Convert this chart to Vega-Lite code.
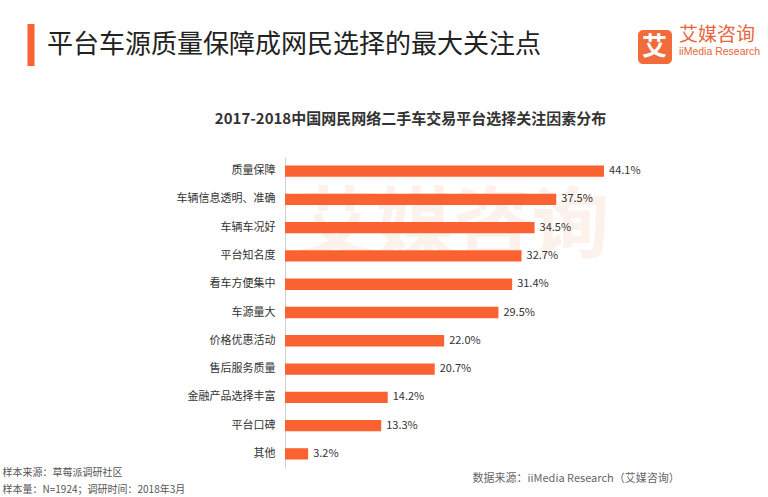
{
  "$schema": "https://vega.github.io/schema/vega-lite/v6.json",
  "width": 340,
  "height": 311,
  "autosize": {"type": "none"},
  "padding": {"left": 285, "top": 157, "right": 143, "bottom": 29},
  "background": "white",
  "config": {
    "font": "Noto Sans CJK SC",
    "view": {"stroke": null}
  },
  "title": {
    "text": "艾媒咨询",
    "subtitle": "iiMedia Research",
    "anchor": "start",
    "frame": "group",
    "dx": 394,
    "dy": 37,
    "fontSize": 19,
    "fontWeight": "normal",
    "color": "#E8643A",
    "subtitleColor": "#E8643A",
    "subtitleFontSize": 10.5,
    "subtitleFont": "Liberation Sans",
    "subtitlePadding": 2
  },
  "data": {
    "values": [
      {"factor": "质量保障", "share": 0.441},
      {"factor": "车辆信息透明、准确", "share": 0.375},
      {"factor": "车辆车况好", "share": 0.345},
      {"factor": "平台知名度", "share": 0.327},
      {"factor": "看车方便集中", "share": 0.314},
      {"factor": "车源量大", "share": 0.295},
      {"factor": "价格优惠活动", "share": 0.220},
      {"factor": "售后服务质量", "share": 0.207},
      {"factor": "金融产品选择丰富", "share": 0.142},
      {"factor": "平台口碑", "share": 0.133},
      {"factor": "其他", "share": 0.032}
    ]
  },
  "resolve": {"scale": {"x": "independent", "y": "independent"}},
  "layer": [
    {
      "mark": {"type": "bar"},
      "encoding": {
        "y": {
          "field": "factor", "type": "nominal", "sort": null,
          "scale": {"type": "band", "paddingInner": 0.6, "paddingOuter": 0.3},
          "axis": {
            "orient": "left",
            "ticks": false,
            "domain": true,
            "domainColor": "#D0D0D0",
            "domainWidth": 1,
            "labelFontSize": 11,
            "labelColor": "#333333",
            "labelPadding": 10,
            "labelLimit": 0,
            "title": ["样本来源：草莓派调研社区", "样本量：N=1924；调研时间：2018年3月"],
            "titleAngle": 0,
            "titleAlign": "left",
            "titleBaseline": "alphabetic",
            "titleX": -283,
            "titleY": 318,
            "titleLineHeight": 17,
            "titleFontWeight": "normal",
            "titleFontSize": 10,
            "titleColor": "#555555"
          }
        },
        "x": {
          "field": "share", "type": "quantitative",
          "scale": {"domain": [0, 0.47]},
          "axis": {
            "orient": "bottom",
            "labels": false, "ticks": false, "domain": false, "grid": false,
            "title": "数据来源：iiMedia Research（艾媒咨询）",
            "titleX": 187,
            "titleY": 10,
            "titleAlign": "left",
            "titleBaseline": "middle",
            "titleFontWeight": "normal",
            "titleFontSize": 11,
            "titleColor": "#666666"
          }
        },
        "color": {
          "datum": "平台车源质量保障成网民选择的最大关注点",
          "scale": {"range": ["#FA6231"]},
          "legend": {
            "orient": "none",
            "legendX": -275,
            "legendY": -133,
            "title": null,
            "padding": 0,
            "symbolType": "M-0.167,-1H0.167V1H-0.167Z",
            "symbolSize": 1764,
            "symbolStrokeWidth": 0,
            "symbolOpacity": 1,
            "labelFontSize": 26,
            "labelColor": "#222222",
            "labelOffset": -5,
            "labelLimit": 0
          }
        }
      }
    },
    {
      "mark": {"type": "text", "align": "left", "baseline": "middle", "dx": 5, "fontSize": 11, "color": "#333333"},
      "encoding": {
        "y": {
          "field": "factor", "type": "nominal", "sort": null,
          "scale": {"type": "band", "paddingInner": 0.6, "paddingOuter": 0.3},
          "axis": {
            "orient": "right",
            "labels": false, "ticks": false, "domain": false, "grid": false,
            "title": "艾媒咨询",
            "titleAngle": 0,
            "titleAlign": "center",
            "titleBaseline": "middle",
            "titleX": -172,
            "titleY": 71,
            "titleFontSize": 78,
            "titleFontWeight": "bold",
            "titleColor": "#FDF1EC"
          }
        },
        "x": {
          "field": "share", "type": "quantitative",
          "scale": {"domain": [0, 0.47]},
          "axis": {
            "orient": "top",
            "labels": false, "ticks": false, "domain": false, "grid": false,
            "title": "2017-2018中国网民网络二手车交易平台选择关注因素分布",
            "titleX": 125,
            "titleY": -39,
            "titleAlign": "center",
            "titleBaseline": "middle",
            "titleFontSize": 15,
            "titleFontWeight": "bold",
            "titleColor": "#333333"
          }
        },
        "text": {"field": "share", "type": "quantitative", "format": ".1%"}
      }
    },
    {
      "transform": [{"filter": "false"}],
      "mark": {"type": "point", "filled": true, "color": "#F26B3A"},
      "encoding": {
        "y": {"field": "factor", "type": "nominal", "sort": null, "axis": null},
        "x": {"field": "share", "type": "quantitative", "axis": null},
        "shape": {
          "datum": "艾",
          "scale": {"range": ["M-0.7,-1H0.7A0.3,0.3 0 0 1 1,-0.7V0.7A0.3,0.3 0 0 1 0.7,1H-0.7A0.3,0.3 0 0 1 -1,0.7V-0.7A0.3,0.3 0 0 1 -0.7,-1Z"]},
          "legend": {
            "orient": "none",
            "legendX": 353,
            "legendY": -127,
            "title": null,
            "padding": 0,
            "symbolSize": 1156,
            "symbolFillColor": "#F26B3A",
            "symbolStrokeColor": "#F26B3A",
            "symbolStrokeWidth": 0,
            "symbolOpacity": 1,
            "labelFontSize": 25,
            "labelFontWeight": "bold",
            "labelColor": "#FFFFFF",
            "labelOffset": -30,
            "labelLimit": 0
          }
        }
      }
    }
  ]
}
